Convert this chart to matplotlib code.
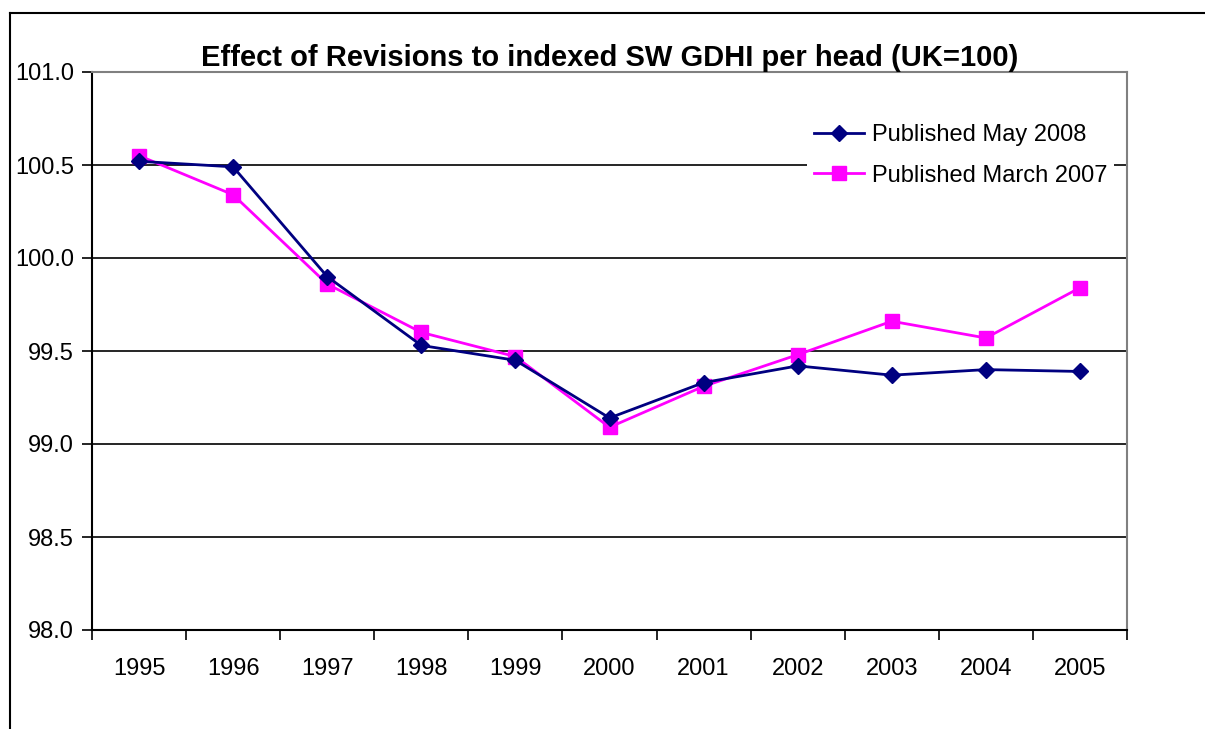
import matplotlib
matplotlib.use("Agg")
import matplotlib.pyplot as plt
from matplotlib.lines import Line2D

plt.rcParams['font.family'] = ['Liberation Sans', 'DejaVu Sans']

years = ["1995", "1996", "1997", "1998", "1999", "2000", "2001", "2002", "2003", "2004", "2005"]
may_2008 = [100.52, 100.49, 99.90, 99.53, 99.45, 99.14, 99.33, 99.42, 99.37, 99.40, 99.39]
march_2007 = [100.55, 100.34, 99.86, 99.60, 99.47, 99.09, 99.31, 99.48, 99.66, 99.57, 99.84]
yticks = [98.0, 98.5, 99.0, 99.5, 100.0, 100.5, 101.0]

fig = plt.figure(figsize=(12.05, 7.29), dpi=100)
ax = fig.add_axes([92/1205, 1-630/729, (1127-92)/1205, (630-72)/729])

x = list(range(len(years)))
ax.plot(x, may_2008, color='#000080', marker='D', markersize=8.5, linewidth=2,
        label='Published May 2008', zorder=4)
ax.plot(x, march_2007, color='#FF00FF', marker='s', markersize=9.5, linewidth=2,
        label='Published March 2007', zorder=3)

ax.set_xlim(-0.5, len(years) - 0.5)
ax.set_ylim(98.0, 101.0)
ax.set_yticks(yticks)
ax.set_yticklabels([f"{v:.1f}" for v in yticks], fontsize=17)
ax.set_xticks(x)
ax.set_xticklabels(years, fontsize=17)
ax.set_xticks([i - 0.5 for i in range(len(years) + 1)], minor=True)
ax.tick_params(axis='x', which='major', length=0, pad=20)
ax.tick_params(axis='x', which='minor', length=7, width=1.2, direction='out', color='black')
ax.tick_params(axis='y', which='major', length=7, width=1.2, direction='out', pad=6)

for v in yticks[1:-1]:
    ax.axhline(v, color='black', linewidth=1.2, zorder=1)

ax.spines['left'].set_color('black')
ax.spines['bottom'].set_color('black')
ax.spines['top'].set_color('#808080')
ax.spines['right'].set_color('#808080')
for s in ax.spines.values():
    s.set_linewidth(1.5)

ax.set_title('Effect of Revisions to indexed SW GDHI per head (UK=100)',
             fontsize=21, fontweight='bold', pad=3)

leg = ax.legend(loc='upper left', bbox_to_anchor=(0.679, 0.941), frameon=True,
                fontsize=17, handlelength=2.15, labelspacing=0.8,
                borderpad=0.3, handletextpad=0.3)
leg.get_frame().set_edgecolor('none')
leg.get_frame().set_facecolor('white')
leg.get_frame().set_alpha(1)
leg.set_zorder(2.2)

fig.add_artist(Line2D([10/1205, 10/1205], [0, 1-13/729], color='black', linewidth=1.5))
fig.add_artist(Line2D([10/1205, 1], [1-13/729, 1-13/729], color='black', linewidth=1.5))

fig.savefig('out.png', dpi=100)
